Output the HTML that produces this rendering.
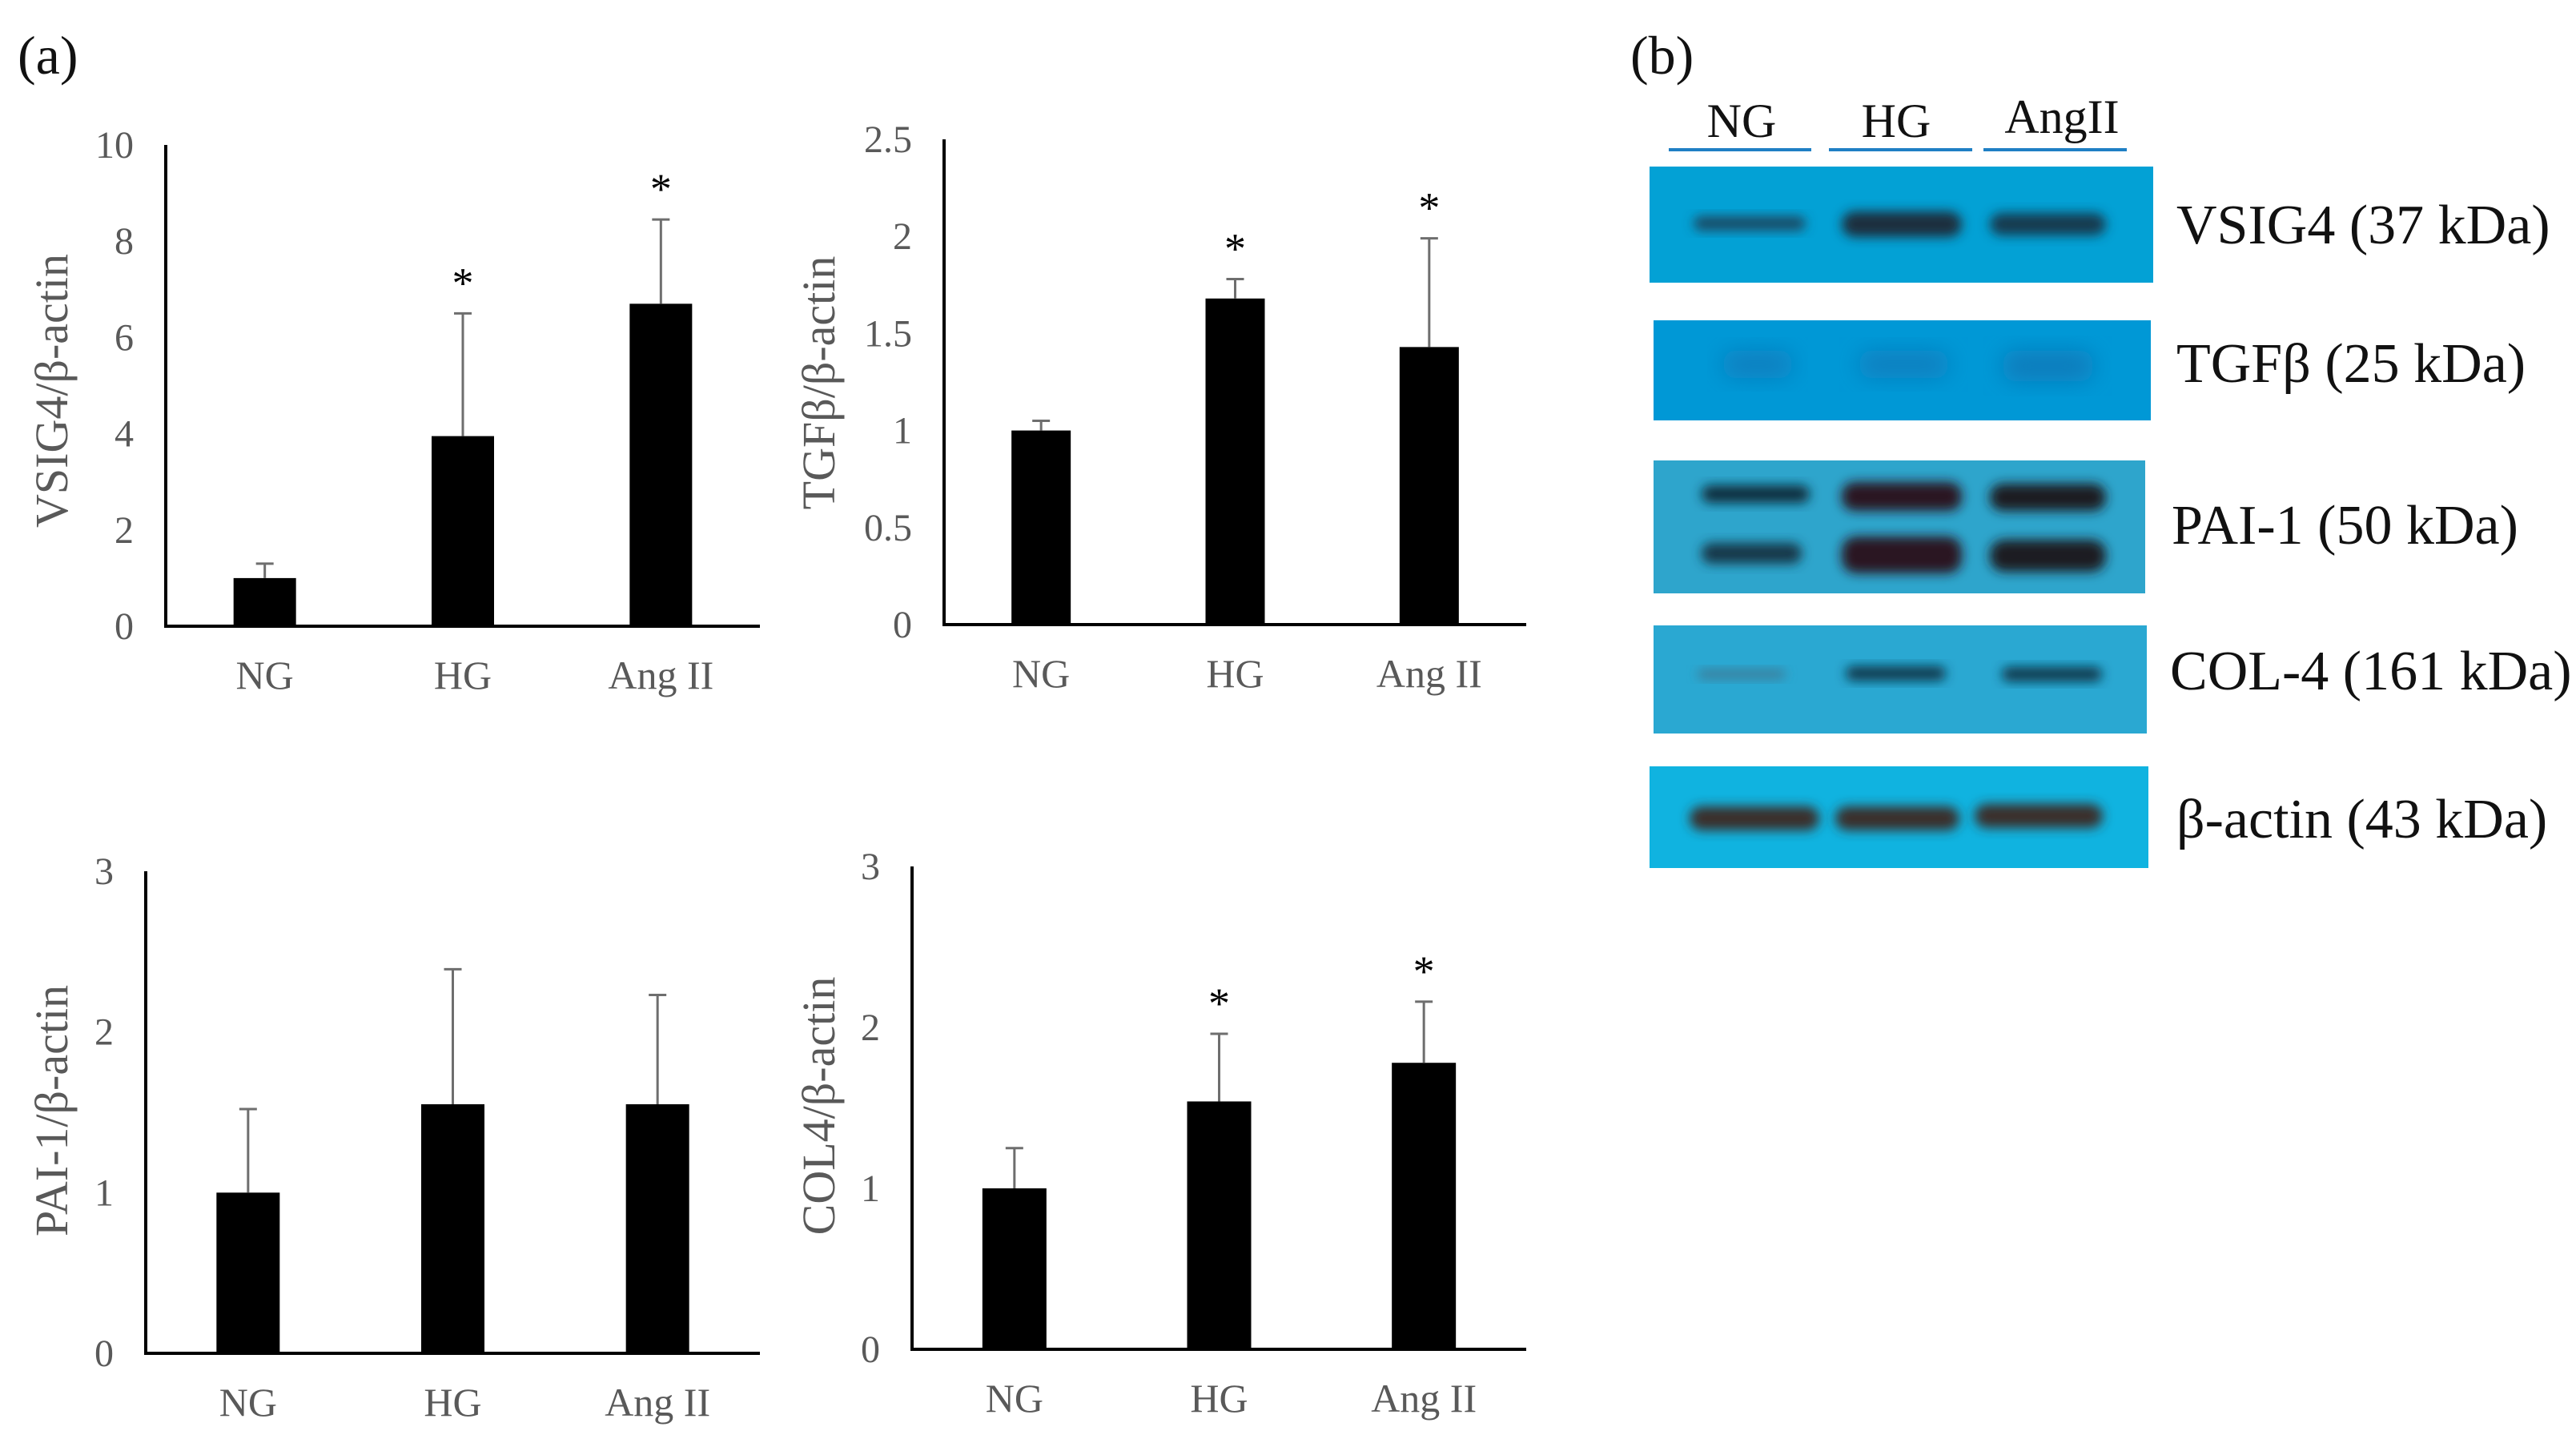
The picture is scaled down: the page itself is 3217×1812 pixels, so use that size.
<!DOCTYPE html>
<html><head><meta charset="utf-8"><style>
html,body{margin:0;padding:0;background:#fff}
svg{display:block}
text{font-family:"Liberation Serif","DejaVu Serif",serif}
</style></head><body>
<svg id="fig" xmlns="http://www.w3.org/2000/svg" width="3217" height="1812" viewBox="0 0 3217 1812">
<defs>
<filter id="blur" x="-20%" y="-50%" width="140%" height="200%"><feGaussianBlur stdDeviation="7"/></filter>
<filter id="blur2" x="-20%" y="-50%" width="140%" height="200%"><feGaussianBlur stdDeviation="14"/></filter>
</defs>
<text x="22" y="92" font-size="68" fill="#111">(a)</text>
<text x="2036" y="92" font-size="68" fill="#111">(b)</text>
<g id="charts"></g>
<g id="blots">
  <text x="2175" y="171" font-size="60" text-anchor="middle" fill="#111">NG</text>
  <text x="2368" y="171" font-size="60" text-anchor="middle" fill="#111">HG</text>
  <text x="2575" y="166" font-size="60" text-anchor="middle" fill="#111">AngII</text>
  <rect x="2084" y="185" width="178" height="4" fill="#1f7fc4"/>
  <rect x="2284" y="185" width="179" height="4" fill="#1f7fc4"/>
  <rect x="2477" y="185" width="179" height="4" fill="#1f7fc4"/>

  <g>
    <rect x="2060" y="208" width="629" height="145" fill="#03a1d5"/>
    <rect x="2115" y="270" width="140" height="18" rx="9" fill="#1a4a63" filter="url(#blur)"/>
    <rect x="2300" y="264" width="150" height="32" rx="16" fill="#1b2f3c" filter="url(#blur)"/>
    <rect x="2485" y="266" width="145" height="28" rx="14" fill="#123a4f" filter="url(#blur)"/>
  </g>
  <g>
    <rect x="2065" y="400" width="621" height="125" fill="#0098d6"/>
    <rect x="2150" y="438" width="90" height="34" rx="17" fill="#0a7fbf" filter="url(#blur2)"/>
    <rect x="2320" y="438" width="115" height="34" rx="17" fill="#0a7fbf" filter="url(#blur2)"/>
    <rect x="2500" y="438" width="115" height="38" rx="17" fill="#0a7cbb" filter="url(#blur2)"/>
  </g>
  <g>
    <rect x="2065" y="575" width="614" height="166" fill="#2ea5cc"/>
    <rect x="2125" y="606" width="135" height="22" rx="11" fill="#0f2d3c" filter="url(#blur)"/>
    <rect x="2300" y="602" width="150" height="36" rx="16" fill="#2a1620" filter="url(#blur)"/>
    <rect x="2485" y="604" width="145" height="34" rx="16" fill="#1e1a24" filter="url(#blur)"/>
    <rect x="2125" y="678" width="125" height="26" rx="12" fill="#15384a" filter="url(#blur)"/>
    <rect x="2300" y="670" width="150" height="46" rx="18" fill="#2a1620" filter="url(#blur)"/>
    <rect x="2485" y="674" width="145" height="40" rx="18" fill="#1e1a24" filter="url(#blur)"/>
  </g>
  <g>
    <rect x="2065" y="781" width="616" height="135" fill="#2aa8d2"/>
    <rect x="2120" y="836" width="110" height="12" rx="6" fill="#3a7d9a" filter="url(#blur)"/>
    <rect x="2305" y="832" width="125" height="18" rx="9" fill="#11384c" filter="url(#blur)"/>
    <rect x="2500" y="833" width="125" height="18" rx="9" fill="#11384c" filter="url(#blur)"/>
  </g>
  <g>
    <rect x="2060" y="957" width="623" height="127" fill="#10b3e0"/>
    <rect x="2110" y="1007" width="162" height="30" rx="15" fill="#3a2e2c" filter="url(#blur)"/>
    <rect x="2292" y="1007" width="155" height="30" rx="15" fill="#3a2e2c" filter="url(#blur)"/>
    <rect x="2466" y="1004" width="160" height="30" rx="15" fill="#3a2e2c" filter="url(#blur)"/>
  </g>
  <text x="2718" y="304" font-size="70" fill="#111">VSIG4 (37 kDa)</text>
  <text x="2718" y="477" font-size="70" fill="#111">TGFβ (25 kDa)</text>
  <text x="2712" y="679" font-size="70" fill="#111">PAI-1 (50 kDa)</text>
  <text x="2710" y="861" font-size="70" fill="#111">COL-4 (161 kDa)</text>
  <text x="2718" y="1046" font-size="70" fill="#111">β-actin (43 kDa)</text>
</g>
</svg>
<script>
const categories = ["NG", "HG", "Ang II"];
const vsig4Values = [1.0, 3.95, 6.7];
const vsig4Errors = [0.3, 2.55, 1.75];
const vsig4Ticks = ["0", "2", "4", "6", "8", "10"];
const tgfbValues = [1.0, 1.68, 1.43];
const tgfbErrors = [0.05, 0.1, 0.56];
const tgfbTicks = ["0", "0.5", "1", "1.5", "2", "2.5"];
const pai1Values = [1.0, 1.55, 1.55];
const pai1Errors = [0.52, 0.84, 0.68];
const pai1Ticks = ["0", "1", "2", "3"];
const col4Values = [1.0, 1.54, 1.78];
const col4Errors = [0.25, 0.42, 0.38];
const col4Ticks = ["0", "1", "2", "3"];
const significant = {vsig4: [false, true, true], tgfb: [false, true, true], pai1: [false, false, false], col4: [false, true, true]};

const NS = "http://www.w3.org/2000/svg";
const root = document.getElementById("charts");
function mk(tag, attrs, parent) {
  const e = document.createElementNS(NS, tag);
  for (const k in attrs) e.setAttribute(k, attrs[k]);
  parent.appendChild(e);
  return e;
}
function chart(cfg) {
  const g = mk("g", {}, root);
  
  
  const maxV = parseFloat(cfg.ticks[cfg.ticks.length - 1]);
  const y = v => cfg.base - (v / maxV) * (cfg.base - cfg.top);
  const step = (cfg.xEnd - cfg.axisX) / categories.length;
  const xc = i => cfg.axisX + step * (i + 0.5);
  cfg.ticks.forEach(t => {
    const tx = mk("text", {x: cfg.axisX - 40, y: y(parseFloat(t)) + 16, "font-size": 48, "text-anchor": "end", fill: "#595959"}, g);
    tx.textContent = t;
    
    
  });
  categories.forEach((c, i) => {
    const v = cfg.values[i], e = cfg.errors[i];
    const b = mk("rect", {x: xc(i) - cfg.bw / 2, y: y(v), width: cfg.bw, height: cfg.base - y(v), fill: "#000"}, g);
    
    
    const ln = mk("path", {d: `M${xc(i)} ${y(v)}V${y(v + e)}M${xc(i) - 11} ${y(v + e)}H${xc(i) + 11}`, stroke: "#6e6e6e", "stroke-width": 3, fill: "none"}, g);
    
    
    if (cfg.sig[i]) {
      const s = mk("text", {x: xc(i), y: y(v + e) - 20, "font-size": 54, "text-anchor": "middle", fill: "#000"}, g);
      s.textContent = "*";
      
      
    }
    const xl = mk("text", {x: xc(i), y: cfg.base + 78, "font-size": 50, "text-anchor": "middle", fill: "#595959"}, g);
    xl.textContent = c;
    
    
  });
  const ax = mk("path", {d: `M${cfg.axisX} ${cfg.top}V${cfg.base}H${cfg.xEnd}`, stroke: "#000", "stroke-width": 4, fill: "none"}, g);
  
  
  const tt = mk("text", {x: 0, y: 0, "font-size": 58, "text-anchor": "middle", fill: "#595959", transform: `translate(${cfg.titleX},${cfg.titleY}) rotate(-90)`}, g);
  tt.textContent = cfg.title;
  
  
}
chart({name: "vsig4", values: vsig4Values, errors: vsig4Errors, ticks: vsig4Ticks, sig: significant.vsig4, title: "VSIG4/β-actin",
  axisX: 207, xEnd: 949, top: 181, base: 782, bw: 78, titleX: 84, titleY: 488});
chart({name: "tgfb", values: tgfbValues, errors: tgfbErrors, ticks: tgfbTicks, sig: significant.tgfb, title: "TGFβ/β-actin",
  axisX: 1179, xEnd: 1906, top: 174, base: 780, bw: 74, titleX: 1042, titleY: 478});
chart({name: "pai1", values: pai1Values, errors: pai1Errors, ticks: pai1Ticks, sig: significant.pai1, title: "PAI-1/β-actin",
  axisX: 182, xEnd: 949, top: 1088, base: 1690, bw: 79, titleX: 84, titleY: 1387});
chart({name: "col4", values: col4Values, errors: col4Errors, ticks: col4Ticks, sig: significant.col4, title: "COL4/β-actin",
  axisX: 1139, xEnd: 1906, top: 1082, base: 1685, bw: 80, titleX: 1042, titleY: 1381});
</script>
</body></html>
